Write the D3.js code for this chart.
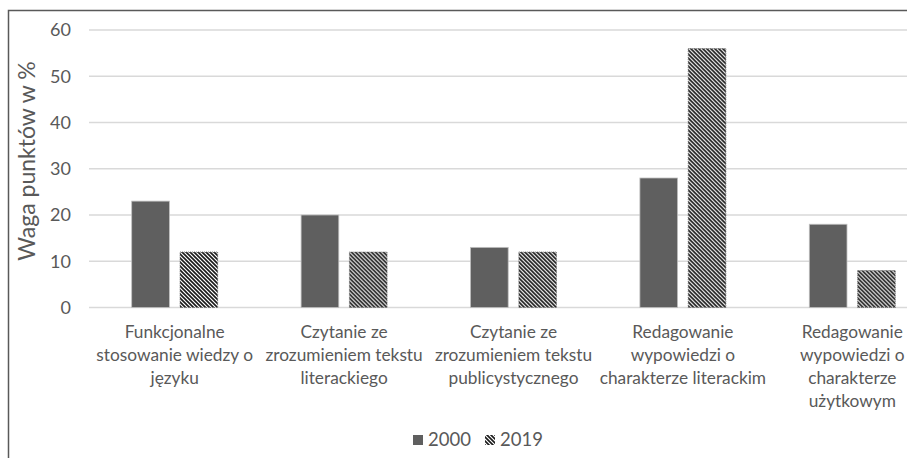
<!DOCTYPE html>
<meta charset="utf-8">
<style>
  body { margin: 0; background: #fff; }
  svg { display: block; font-family: Lato, "Open Sans", sans-serif; }
</style>
<svg width="907" height="458"></svg>
<script src="https://cdn.jsdelivr.net/npm/d3@7"></script>
<script>
// dane z wykresu
const categories = [
  ["Funkcjonalne", "stosowanie wiedzy o", "języku"],
  ["Czytanie ze", "zrozumieniem tekstu", "literackiego"],
  ["Czytanie ze", "zrozumieniem tekstu", "publicystycznego"],
  ["Redagowanie", "wypowiedzi o", "charakterze literackim"],
  ["Redagowanie", "wypowiedzi o", "charakterze", "użytkowym"]
];
const seriesNames = ["2000", "2019"];
const values2000 = [23, 20, 13, 28, 18];
const values2019 = [12, 12, 12, 56, 8];
const yTicks = [0, 10, 20, 30, 40, 50, 60];
const yTitle = "Waga punktów w %";

const svg = d3.select("svg");

// defs: kreskowanie dla 2019
const defs = svg.append("defs");
const pat = defs.append("pattern")
    .attr("id", "hatch")
    .attr("patternUnits", "userSpaceOnUse")
    .attr("width", 4)
    .attr("height", 4);
pat.append("rect").attr("width", 4).attr("height", 4).attr("fill", "#fff");
pat.append("path")
    .attr("d", "M-1,-1L5,5M-1,3L1,5M3,-1L5,1")
    .attr("stroke", "#1a1a1a")
    .attr("stroke-width", 1.6);

const x = d3.scaleBand()
    .domain(d3.range(categories.length))
    .range([90, 937]);
const x1 = d3.scaleBand()
    .domain(seriesNames)
    .range([x.bandwidth() / 2 - 43, x.bandwidth() / 2 + 43])
    .paddingInner(0.22);
const y = d3.scaleLinear()
    .domain([0, 60])
    .range([307.5, 30]);

// ramka (widoczna tylko z lewej i u góry)
svg.append("path")
    .attr("d", "M8.5,458V10.5H907")
    .attr("fill", "none")
    .attr("stroke", "#595959")
    .attr("stroke-width", 1.5);

// siatka
svg.append("g")
    .attr("stroke", "#d9d9d9")
    .attr("stroke-width", 1.5)
  .selectAll("line")
  .data(yTicks)
  .join("line")
    .attr("x1", 89)
    .attr("x2", 907)
    .attr("y1", d => y(d))
    .attr("y2", d => y(d));

// oś Y
svg.append("g")
    .attr("fill", "#595959")
    .attr("font-size", 18)
    .attr("text-anchor", "end")
  .selectAll("text")
  .data(yTicks)
  .join("text")
    .attr("x", 71)
    .attr("y", d => y(d))
    .attr("dy", "0.35em")
    .text(d => d);

svg.append("text")
    .attr("transform", `translate(35,${161}) rotate(-90)`)
    .attr("text-anchor", "middle")
    .attr("fill", "#595959")
    .attr("font-size", 23)
    .text(yTitle);

// słupki
const groups = svg.append("g")
  .selectAll("g")
  .data(categories.map((c, i) => ({i, v: [values2000[i], values2019[i]]})))
  .join("g")
    .attr("transform", d => `translate(${x(d.i)},0)`);

groups.append("rect")
    .attr("x", x1("2000"))
    .attr("width", x1.bandwidth())
    .attr("y", d => y(d.v[0]))
    .attr("height", d => y(0) - y(d.v[0]))
    .attr("fill", "#5f5f5f")
    .attr("stroke", "#bfbfbf")
    .attr("stroke-width", 0.8);

groups.append("rect")
    .attr("x", x1("2019"))
    .attr("width", x1.bandwidth())
    .attr("y", d => y(d.v[1]))
    .attr("height", d => y(0) - y(d.v[1]))
    .attr("fill", "url(#hatch)")
    .attr("stroke", "#666")
    .attr("stroke-width", 0.8)
    .attr("stroke-dasharray", "1,1");

// etykiety kategorii
svg.append("g")
    .attr("fill", "#595959")
    .attr("font-size", 17.3)
    .attr("text-anchor", "middle")
  .selectAll("text")
  .data(categories)
  .join("text")
    .attr("x", (d, i) => x(i) + x.bandwidth() / 2)
    .attr("y", 332)
    .selectAll("tspan")
    .data(d => d)
    .join("tspan")
      .attr("x", function() { return this.parentNode.getAttribute("x"); })
      .attr("dy", (d, i) => i === 0 ? "0.35em" : 23)
      .text(d => d);

// legenda
const legend = svg.append("g")
    .attr("font-size", 18.5)
    .attr("fill", "#595959");
const legX = [413, 485];
seriesNames.forEach((s, i) => {
  legend.append("rect")
      .attr("x", legX[i])
      .attr("y", 435)
      .attr("width", 10)
      .attr("height", 10)
      .attr("fill", i === 0 ? "#5f5f5f" : "url(#hatch)");
  legend.append("text")
      .attr("x", legX[i] + 15)
      .attr("y", 440)
      .attr("dy", "0.35em")
      .text(s);
});
</script>
